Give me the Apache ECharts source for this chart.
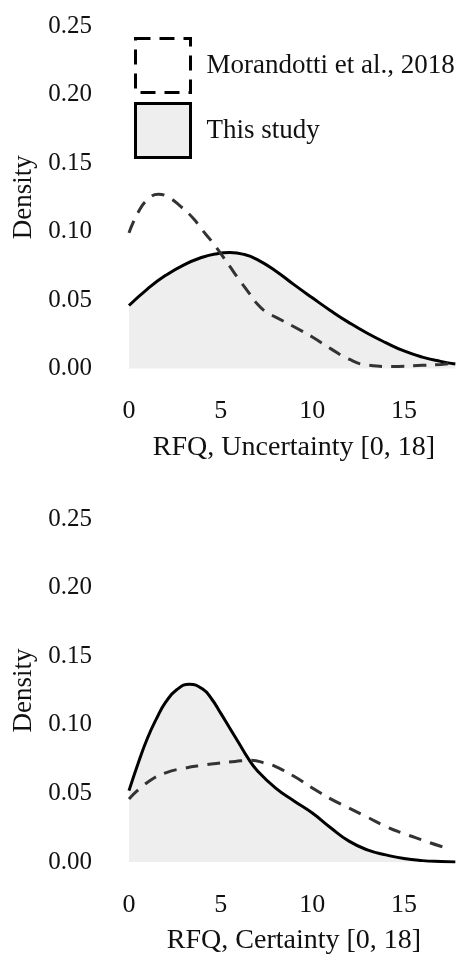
<!DOCTYPE html>
<html><head><meta charset="utf-8">
<script src="https://cdn.jsdelivr.net/npm/echarts@6/dist/echarts.min.js"></script>
<style>html,body{margin:0;padding:0;background:#fff}#c{width:466px;height:956px}</style>
</head><body><div id="c"></div>
<script>
// ---- data ----
const seriesNames = ['Morandotti et al., 2018', 'This study'];
const axisTitles = ['RFQ, Uncertainty [0, 18]', 'RFQ, Certainty [0, 18]'];
const yAxisTitle = 'Density';

// Uncertainty panel
const uncStudyX = [0, 1, 2, 3, 4, 4.7, 5.5, 6.3, 7, 8, 9, 10, 11, 12, 13, 14, 15, 16, 17, 17.8];
const uncStudyY = [0.046, 0.058, 0.068, 0.0757, 0.0812, 0.0836, 0.0846, 0.0832, 0.0795, 0.0712, 0.0612, 0.0516, 0.0422, 0.0335, 0.0257, 0.0189, 0.0128, 0.0083, 0.0052, 0.0033];
const uncMorX = [0, 0.5, 1, 1.6, 2.2, 2.8, 3.5, 4, 4.5, 5, 5.5, 6, 6.5, 7, 7.5, 8, 9, 10, 11, 12, 13, 14.3, 16, 17, 17.8];
const uncMorY = [0.099, 0.114, 0.123, 0.1272, 0.1245, 0.1185, 0.1097, 0.101, 0.093, 0.084, 0.0745, 0.065, 0.056, 0.047, 0.041, 0.0375, 0.0305, 0.023, 0.0145, 0.0068, 0.0025, 0.0015, 0.0023, 0.003, 0.0038];

// Certainty panel
const cerStudyX = [0, 0.5, 1, 1.5, 2, 2.6, 3.3, 4, 4.5, 5, 5.5, 6, 6.5, 7, 8, 9, 10, 11, 12, 13, 14, 15, 16, 17, 17.8];
const cerStudyY = [0.052, 0.072, 0.09, 0.1045, 0.1165, 0.1255, 0.1295, 0.1262, 0.119, 0.1085, 0.0975, 0.0865, 0.0755, 0.0665, 0.0538, 0.0445, 0.0357, 0.025, 0.0152, 0.0088, 0.0052, 0.0025, 0.001, 0.0003, 0.0];
const cerMorX = [0, 1, 2, 3, 4, 5, 5.8, 6.6, 7.5, 8, 9, 10, 11, 12, 13, 14, 15, 16, 17, 17.4];
const cerMorY = [0.046, 0.058, 0.065, 0.0683, 0.0705, 0.0722, 0.0733, 0.0741, 0.0718, 0.0695, 0.0625, 0.054, 0.046, 0.0393, 0.0327, 0.026, 0.0207, 0.016, 0.0115, 0.0101];

const xMin = 0, xMax = 18, xStep = 5;
const yMin = 0, yMax = 0.25, yStep = 0.05;

// ---- chart ----
const FONT = "'Liberation Serif', 'Times New Roman', serif";
const TXT = '#111';
const zip = (xs, ys) => xs.map((x, i) => [x, ys[i]]);

function xAxisFor(idx) {
  return {
    gridIndex: idx, type: 'value', min: xMin, max: xMax, interval: xStep,
    axisLine: { show: false }, axisTick: { show: false }, splitLine: { show: false },
    axisLabel: { showMaxLabel: false, margin: 30, color: TXT, fontFamily: FONT, fontSize: 26 },
    name: axisTitles[idx], nameLocation: 'middle', nameGap: 65,
    nameTextStyle: { color: TXT, fontFamily: FONT, fontSize: 28 }
  };
}
function yAxisFor(idx) {
  return {
    gridIndex: idx, type: 'value', min: yMin, max: yMax, interval: yStep,
    axisLine: { show: false }, axisTick: { show: false }, splitLine: { show: false },
    axisLabel: { margin: 37, color: TXT, fontFamily: FONT, fontSize: 25, formatter: v => v.toFixed(2) },
    name: yAxisTitle, nameLocation: 'middle', nameGap: 92,
    nameTextStyle: { color: TXT, fontFamily: FONT, fontSize: 27 }
  };
}
function studySeries(idx, data) {
  return {
    name: seriesNames[1], type: 'line', xAxisIndex: idx, yAxisIndex: idx,
    data, smooth: 0.5, showSymbol: false, symbol: 'none',
    lineStyle: { color: '#000', width: 3 },
    itemStyle: { color: '#000' },
    areaStyle: { color: '#eeeeee', opacity: 1 }
  };
}
function morSeries(idx, data) {
  return {
    name: seriesNames[0], type: 'line', xAxisIndex: idx, yAxisIndex: idx,
    data, smooth: 0.5, showSymbol: false, symbol: 'none',
    lineStyle: { color: '#333', width: 3, type: [13, 9] },
    itemStyle: { color: '#333' }
  };
}

const chart = echarts.init(document.getElementById('c'), null, { renderer: 'canvas' });
chart.setOption({
  animation: false,
  backgroundColor: '#fff',
  grid: [
    { left: 129, right: 7, top: 26, height: 342.5 },
    { left: 129, right: 7, top: 519, height: 343 }
  ],
  xAxis: [xAxisFor(0), xAxisFor(1)],
  yAxis: [yAxisFor(0), yAxisFor(1)],
  legend: {
    orient: 'vertical', left: 134, top: 37, padding: 0, itemWidth: 55, itemHeight: 54, itemGap: 8,
    textStyle: { color: TXT, fontFamily: FONT, fontSize: 27, padding: [0, 0, 0, 11] },
    data: [
      { name: seriesNames[0], icon: 'rect',
        itemStyle: { color: '#fff', borderColor: '#000', borderWidth: 3, borderType: [15, 9] } },
      { name: seriesNames[1], icon: 'rect',
        itemStyle: { color: '#eeeeee', borderColor: '#000', borderWidth: 3, borderType: 'solid' } }
    ]
  },
  series: [
    studySeries(0, zip(uncStudyX, uncStudyY)),
    morSeries(0, zip(uncMorX, uncMorY)),
    studySeries(1, zip(cerStudyX, cerStudyY)),
    morSeries(1, zip(cerMorX, cerMorY))
  ]
});
</script></body></html>
